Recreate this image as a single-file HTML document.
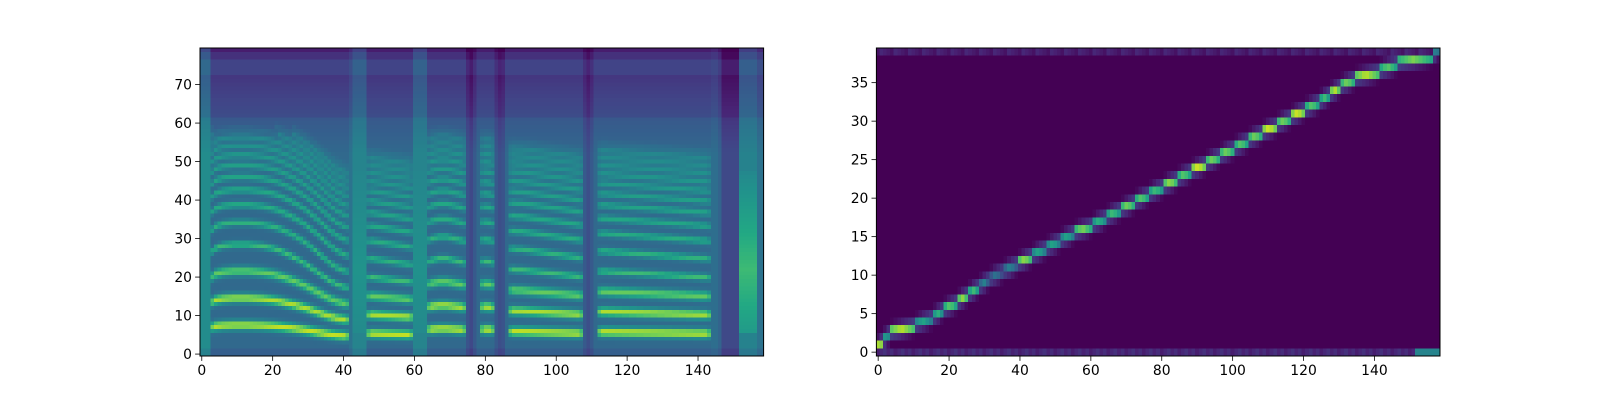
<!DOCTYPE html>
<html><head><meta charset="utf-8"><style>
html,body{margin:0;padding:0;background:#fff;}
#wrap{position:relative;width:1600px;height:400px;overflow:hidden;font-family:"DejaVu Sans","Liberation Sans",sans-serif;}
canvas{position:absolute;image-rendering:pixelated;}
svg{position:absolute;left:0;top:0;}
</style></head><body>
<div id="wrap">
<canvas id="spec" width="159" height="80"></canvas>
<canvas id="align" width="159" height="40"></canvas>
<svg id="ov" width="1600" height="400"></svg>
</div>
<script>
// ---- data: mel spectrogram ----
const specFrames = 159, specBins = 80;
const f0Hz = [0,0,0,
 250,258,262,265,266,267,268,268,268,268,268,267,266,265,264,262,260,258,255,252,248,244,240,235,230,225,220,214,208,202,196,190,184,178,173,168,165,162,160,
 0,0,0,0,0,
 185,185,184,183,182,181,180,179,178,177,176,175,174,
 0,0,0,0,
 225,228,230,232,232,232,230,228,226,224,222,
 0,0,0,0,
 225,225,224,222,
 0,0,0,0,
 205,205,204,204,203,202,201,200,199,198,197,196,195,194,193,192,191,190,189,188,187,
 0,0,0,0,
 200,200,200,199,199,198,198,197,197,196,196,195,195,194,194,193,193,192,192,191,191,190,190,189,189,188,188,187,187,186,186,185,
 0,0,0,0,0,0,0,0,0,0,0,0,0,0,0];
// background level runs: [startFrame, endFrame(inclusive), level]
const bgStart = [0,3,43,47,60,64,75,76,77,78,79,83,84,85,86,87,108,109,110,111,112,144,146,147,152,157];
const bgEnd   = [2,42,46,59,63,74,75,76,77,78,82,83,84,85,86,107,108,109,110,111,143,145,146,151,156,158];
const bgValue = [0.48,0.38,0.45,0.38,0.45,0.38,0.26,0.22,0.28,0.34,0.38,0.28,0.24,0.26,0.34,0.38,0.28,0.24,0.28,0.34,0.38,0.36,0.32,0.22,0.44,0.38];
// fricative noise runs
const fricStart = [43,60,152];
const fricEnd   = [46,63,156];
const fricValue = [0.06,0.05,0.24];
const harmonicAmp = [0.57,0.54,0.42,0.34,0.30,0.28,0.26,0.24,0.22,0.20,0.18,0.16,0.14,0.12,0.10,0.08];
// ---- data: alignment ----
const alignSteps = 40;
const stepStartFrame = [152,0,2,4,11,16,19,23,26,29,32,36,40,44,48,52,56,61,65,69,73,77,81,85,89,93,97,101,105,109,113,117,121,125,128,131,135,142,147,157];
const stepPeak = [0.45,0.95,0.6,0.9,0.6,0.65,0.75,0.85,0.7,0.45,0.4,0.45,0.85,0.6,0.6,0.6,0.8,0.65,0.7,0.8,0.75,0.7,0.85,0.75,0.95,0.8,0.8,0.75,0.8,0.95,0.8,0.95,0.75,0.7,0.9,0.8,0.9,0.75,0.8,0.5];
const xTicks = [0,20,40,60,80,100,120,140];
const specYTicks = [0,10,20,30,40,50,60,70];
const alignYTicks = [0,5,10,15,20,25,30,35];

const vir = [[68,1,84],[72,36,117],[65,68,135],[53,95,141],[42,120,142],[33,145,140],[34,168,132],[68,191,112],[122,209,81],[189,223,38],[253,231,37]];
function viridis(v){if(!isFinite(v))v=0;v=Math.max(0,Math.min(1,v));const p=v*10,i=Math.min(9,Math.floor(p)),t=p-i;const a=vir[i],b=vir[i+1];return [a[0]+(b[0]-a[0])*t,a[1]+(b[1]-a[1])*t,a[2]+(b[2]-a[2])*t];}
function hzToBin(hz){const mel=hz<1000?hz/66.667:15+Math.log(hz/1000)/(Math.log(6.4)/27);return mel/45.25*79+0.5;}
function runLookup(starts,ends,vals,f,def){for(let i=0;i<starts.length;i++){if(f>=starts[i]&&f<=ends[i])return vals[i];}return def;}

const AX=[{x0:200,x1:763.6,y0:48,y1:356},{x0:876.4,x1:1440,y0:48,y1:356}];

// draw spectrogram
try{(function(){
 const c=document.getElementById('spec');const g=AX[0];
 c.style.left=g.x0+'px';c.style.top=g.y0+'px';c.style.width=(g.x1-g.x0)+'px';c.style.height=(g.y1-g.y0)+'px';
 const ctx=c.getContext('2d');const img=ctx.createImageData(specFrames,specBins);
 for(let f=0;f<specFrames;f++){
  const f0=f0Hz[f]||0;
  let edge=1; if(f0>0){const pl=f0Hz[f-1]||0, nx=f0Hz[f+1]||0; if(!pl||!nx) edge=0.8;}
  const topCut=f0>0?hzToBin(Math.min(3300,f0*14)):0;
  const bg=runLookup(bgStart,bgEnd,bgValue,f,0.38);
  const fric=runLookup(fricStart,fricEnd,fricValue,f,0);
  for(let b=0;b<specBins;b++){
   let v=bg;
   if(b<2) v-=0.04;
   if(b>52) v-=Math.min(0.14,(b-52)*0.007);
   if(b>=62&&b<=72) v-=0.04;
   if(b>=77) v-=0.06;
   if(b>=79) v-=0.06;
   if(fric>0&&b>=6&&b<48) v+=fric*(1-Math.abs(b-22)/28);
   if(f0>0){
    v-=0.04;
    for(let n=1;n<=harmonicAmp.length;n++){
     const hb=hzToBin(n*f0); if(hb>topCut+2) break;
     const fade=hb>topCut?0.4:1;
     const sg=n<=3?0.8:0.6;
     const d=b-hb; v+=harmonicAmp[n-1]*edge*fade*Math.exp(-d*d/(2*sg*sg));
    }
   }
   const col=viridis(v);const idx=((specBins-1-b)*specFrames+f)*4;
   img.data[idx]=col[0];img.data[idx+1]=col[1];img.data[idx+2]=col[2];img.data[idx+3]=255;
  }
 }
 ctx.putImageData(img,0,0);
})();}catch(e){}

// draw alignment
try{(function(){
 const c=document.getElementById('align');const g=AX[1];
 c.style.left=g.x0+'px';c.style.top=g.y0+'px';c.style.width=(g.x1-g.x0)+'px';c.style.height=(g.y1-g.y0)+'px';
 const ctx=c.getContext('2d');const img=ctx.createImageData(specFrames,alignSteps);
 const grid=[];for(let s=0;s<alignSteps;s++){grid.push(new Array(specFrames).fill(0));}
 for(let f=0;f<specFrames;f++){grid[0][f]=0.08+0.06*((f*7)%5)/4;grid[alignSteps-1][f]=0.05+0.06*((f*3)%4)/3;}
 for(let s=1;s<alignSteps;s++){
  const st=stepStartFrame[s];const en=(s+1<alignSteps)?stepStartFrame[s+1]:specFrames;
  const len=Math.max(1,en-st);
  for(let f=st;f<en&&f<specFrames;f++){
   const fr=(f-st+0.5)/len;
   grid[s][f]=Math.max(grid[s][f],stepPeak[s]-0.4*Math.abs(fr-0.45));
   if(s-1>=1) grid[s-1][f]=Math.max(grid[s-1][f],0.18*(1-fr));
   if(s+1<alignSteps-1) grid[s+1][f]=Math.max(grid[s+1][f],0.18*fr);
  }
 }
 for(let f=stepStartFrame[0];f<specFrames;f++){grid[0][f]=stepPeak[0];}
 for(let s=0;s<alignSteps;s++)for(let f=0;f<specFrames;f++){
  const col=viridis(grid[s][f]);const idx=((alignSteps-1-s)*specFrames+f)*4;
  img.data[idx]=col[0];img.data[idx+1]=col[1];img.data[idx+2]=col[2];img.data[idx+3]=255;
 }
 ctx.putImageData(img,0,0);
})();}catch(e){}

// axes overlay
(function(){
 const svg=document.getElementById('ov');const NS='http://www.w3.org/2000/svg';
 function mk(tag,attrs){const e=document.createElementNS(NS,tag);for(const k in attrs)e.setAttribute(k,attrs[k]);svg.appendChild(e);return e;}
 const yt=[specYTicks,alignYTicks],ny=[specBins,alignSteps],names=['spectrogram','alignment'];
 for(let a=0;a<2;a++){
  const g=AX[a];
  const xs=v=>g.x0+(v+0.5)/specFrames*(g.x1-g.x0);
  const ys=v=>g.y1-(v+0.5)/ny[a]*(g.y1-g.y0);
  const frame=mk('rect',{x:g.x0,y:g.y0,width:g.x1-g.x0,height:g.y1-g.y0,fill:'none',stroke:'#000','stroke-width':1});
  
  
  xTicks.forEach(t=>{
   const x=xs(t);
   const l=mk('line',{x1:x,x2:x,y1:g.y1,y2:g.y1+4.9,stroke:'#000','stroke-width':0.8});
   
   
   const tx=mk('text',{x:x,y:g.y1+19,'text-anchor':'middle','font-size':'13.9px',fill:'#000'});
   tx.textContent=String(t);
   
   
  });
  yt[a].forEach(t=>{
   const y=ys(t);
   const l=mk('line',{x1:g.x0-4.9,x2:g.x0,y1:y,y2:y,stroke:'#000','stroke-width':0.8});
   
   
   const tx=mk('text',{x:g.x0-8,y:y+5,'text-anchor':'end','font-size':'13.9px',fill:'#000'});
   tx.textContent=String(t);
   
   
  });
 }
})();
</script>
</body></html>
